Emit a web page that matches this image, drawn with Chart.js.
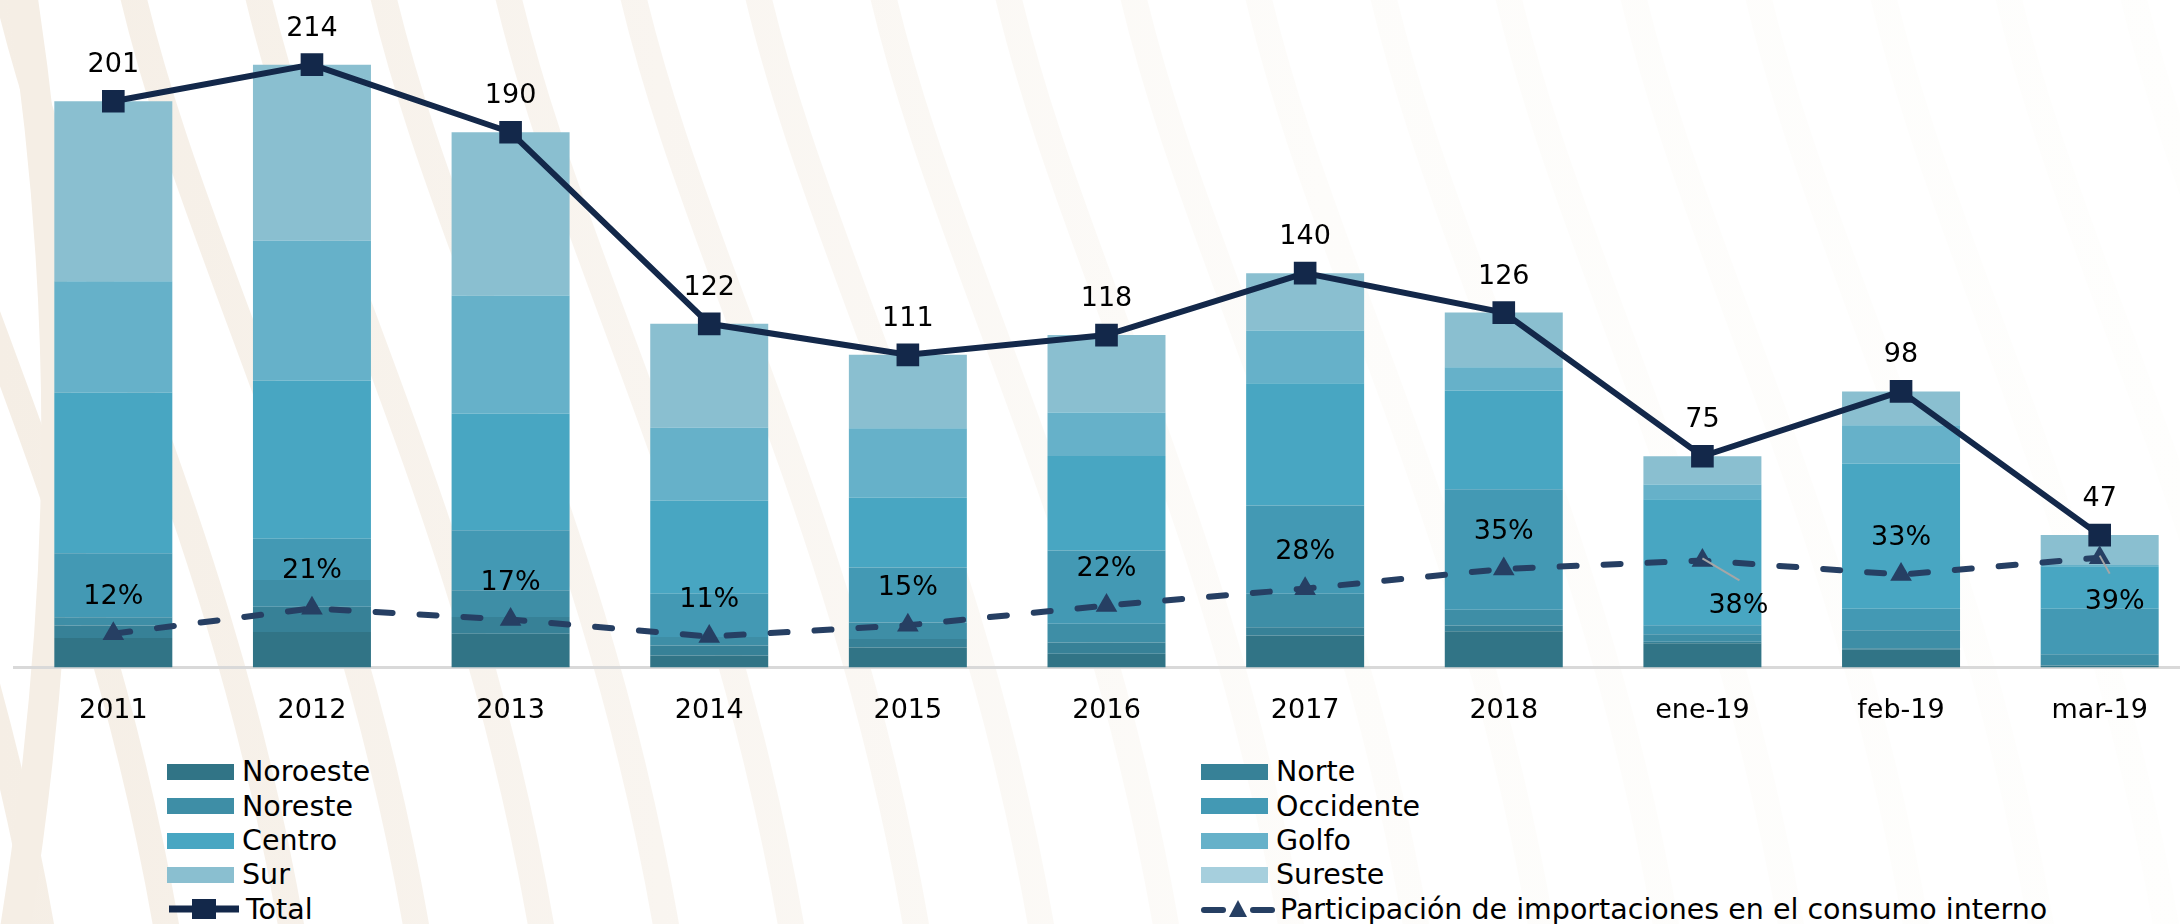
<!DOCTYPE html>
<html>
<head>
<meta charset="utf-8">
<script src="https://cdn.jsdelivr.net/npm/chart.js@4.4.1/dist/chart.umd.min.js"></script>
<style>
  html, body { margin: 0; padding: 0; background: #fff; overflow: hidden; }
  body { width: 2220px; height: 924px; position: relative; font-family: "DejaVu Sans", sans-serif; }
  #bg { position: absolute; left: 0; top: 0; }
  #chart { position: absolute; left: -2px; top: 0; width: 2217px; height: 740px; }
  .leg { position: absolute; height: 34px; display: flex; align-items: center; font-size: 28.5px; color: #000; white-space: nowrap; }
  .leg .box { width: 67px; height: 16px; margin-right: 8px; }
  .leg svg { margin-right: 5px; }
</style>
</head>
<body>
<svg id="bg" width="2200" height="924"></svg>
<canvas id="chart" width="2217" height="740"></canvas>
<div id="legend"></div>
<script>
// periods on the x axis
const periods = ["2011", "2012", "2013", "2014", "2015", "2016", "2017", "2018", "ene-19", "feb-19", "mar-19"];

// imports by region (stacked bars)
const noroeste  = [10.5, 12.6, 12.0,  4.3,  7.1,  4.9, 11.4, 12.9,  8.6,  6.3,  0.6];
const norte     = [ 4.4,  9.0,  5.9,  3.5,  3.0,  4.0,  2.9,  2.0,  0.5,  0.5,  0.2];
const noreste   = [ 2.9,  9.5,  9.5,  3.0,  5.9,  6.6, 11.9,  5.6,  2.7,  6.4,  3.9];
const occidente = [22.8, 14.6, 21.3, 15.4, 19.5, 26.0, 31.3, 42.8,  3.2,  7.7, 16.2];
const centro    = [56.9, 56.2, 41.5, 33.1, 24.8, 33.6, 43.4, 35.0, 44.7, 51.5, 15.0];
const golfo     = [39.6, 49.6, 41.9, 25.8, 24.6, 15.4, 18.7,  8.3,  5.3, 13.6,  0.5];
const sur       = [63.9, 62.5, 57.9, 36.9, 26.1, 27.5, 20.4, 19.4, 10.0, 12.0, 10.6];
const sureste   = [ 0,    0,    0,    0,    0,    0,    0,    0,    0,    0,    0  ];

// total and share of imports in domestic consumption (%)
const total = [201, 214, 190, 122, 111, 118, 140, 126, 75, 98, 47];
const participacion = [12, 21, 17, 11, 15, 22, 28, 35, 38, 33, 39];

const regionNames = ["Noroeste", "Norte", "Noreste", "Occidente", "Centro", "Golfo", "Sur", "Sureste"];
const regionValues = [noroeste, norte, noreste, occidente, centro, golfo, sur, sureste];
const regionColors = ["#317486", "#378197", "#3e8ea6", "#4399b4", "#48a6c2", "#66b1c9", "#8abfd0", "#a6cfdd"];

const totalColor = "#13284a";
const pctColor = "#263f63";
const FONT = "DejaVu Sans";

// faint watermark stripes behind the chart (decoration only)
(function drawWatermark() {
  const svg = document.getElementById("bg");
  let html = '<defs><linearGradient id="wm" gradientUnits="userSpaceOnUse" x1="0" y1="0" x2="2200" y2="0">' +
    '<stop offset="0" stop-color="#f5eee5"/><stop offset="0.3" stop-color="#f9f5f0"/><stop offset="0.6" stop-color="#fdfcfa"/><stop offset="1" stop-color="#fefefd"/></linearGradient></defs>';
  for (let k = -3; k < 20; k++) {
    const x = k * 125;
    html += '<path d="M' + x + ' -40 C ' + (x + 60) + ' 250, ' + (x + 230) + ' 520, ' + (x + 300) + ' 980" ' +
      'fill="none" stroke="url(#wm)" stroke-width="26" stroke-linecap="round"/>';
  }
  html += '<path d="M20 -20 C 70 300, 70 600, 10 960" fill="none" stroke="#f5eee5" stroke-width="30"/>';
  svg.innerHTML = html;
})();

// draws the numbers over the markers
const valueLabels = {
  id: "valueLabels",
  afterDatasetsDraw(chart) {
    const ctx = chart.ctx;
    const n = regionNames.length;
    ctx.save();
    ctx.font = "27px '" + FONT + "'";
    ctx.fillStyle = "#000";
    ctx.textAlign = "center";
    ctx.textBaseline = "middle";

    chart.getDatasetMeta(n).data.forEach((pt, i) => {
      ctx.fillText(String(total[i]), pt.x, pt.y - 36);
    });

    // two labels sit below the marker with a small leader line
    const below = { 8: [36, 46, 37, 20], 10: [15, 44, 10, 16] };
    chart.getDatasetMeta(n + 1).data.forEach((pt, i) => {
      const txt = participacion[i] + "%";
      const b = below[i];
      if (b) {
        ctx.strokeStyle = "#a6a6a6";
        ctx.lineWidth = 2;
        ctx.beginPath();
        ctx.moveTo(pt.x, pt.y - 2);
        ctx.lineTo(pt.x + b[2], pt.y + b[3]);
        ctx.stroke();
        ctx.fillText(txt, pt.x + b[0], pt.y + b[1]);
      } else {
        ctx.fillText(txt, pt.x, pt.y - 37);
      }
    });
    ctx.restore();
  }
};

const datasets = regionNames.map((name, i) => ({
  type: "bar",
  label: name,
  data: regionValues[i],
  backgroundColor: regionColors[i],
  borderWidth: 0,
  stack: "regiones",
  yAxisID: "y",
  order: 2,
  barPercentage: 0.594,
  categoryPercentage: 1
}));

datasets.push({
  type: "line",
  label: "Total",
  data: total,
  yAxisID: "yT",
  order: 1,
  borderColor: totalColor,
  borderWidth: 6,
  tension: 0,
  pointStyle: "rect",
  pointRadius: 16,
  pointBorderWidth: 0,
  pointBackgroundColor: totalColor
});

datasets.push({
  type: "line",
  label: "Participación de importaciones en el consumo interno",
  data: participacion,
  yAxisID: "yP",
  order: 0,
  borderColor: pctColor,
  borderWidth: 6,
  borderDash: [17, 27],
  borderCapStyle: "round",
  tension: 0,
  pointStyle: "triangle",
  pointRadius: 12.5,
  pointBorderWidth: 0,
  pointBackgroundColor: pctColor
});

// the line points force a 16px minimum padding on each side; the canvas is shifted to compensate
new Chart(document.getElementById("chart"), {
  data: { labels: periods, datasets: datasets },
  options: {
    responsive: false,
    animation: false,
    devicePixelRatio: 1,
    layout: { padding: { left: 0, right: 0, top: 19.6, bottom: 0 } },
    plugins: { legend: { display: false }, tooltip: { enabled: false } },
    scales: {
      x: {
        offset: true,
        grid: { display: false, drawTicks: false },
        border: { display: true, color: "#d9d9d9", width: 3 },
        ticks: { color: "#000", font: { family: FONT, size: 27 }, padding: 27, maxRotation: 0, autoSkip: false },
        afterFit(s) { s.height = 72.5; s.paddingLeft = 0; s.paddingRight = 0; }
      },
      y:  { display: false, stacked: true, min: 0, max: 230 },
      yT: { display: false, min: 0, max: 230 },
      yP: { display: false, min: 0, max: 230 }
    }
  },
  plugins: [valueLabels]
});

// legend in two columns under the chart
const legend = document.getElementById("legend");
const colX = [167, 1201];
const rowY = 771.7, rowStep = 34.4;
function addItem(col, row, markerHtml, text) {
  const d = document.createElement("div");
  d.className = "leg";
  d.style.left = colX[col] + "px";
  d.style.top = (rowY + row * rowStep - 17) + "px";
  d.innerHTML = markerHtml;
  const s = document.createElement("span");
  s.textContent = text;
  d.appendChild(s);
  legend.appendChild(d);
}
regionNames.forEach((name, i) => {
  addItem(i % 2, Math.floor(i / 2), '<div class="box" style="background:' + regionColors[i] + '"></div>', name);
});
addItem(0, 4,
  '<svg width="74" height="24"><line x1="2" y1="12" x2="72" y2="12" stroke="' + totalColor + '" stroke-width="7"/>' +
  '<rect x="25" y="2" width="24" height="20" fill="' + totalColor + '"/></svg>', datasets[8].label);
addItem(1, 4,
  '<svg width="74" height="24"><line x1="3" y1="13" x2="22" y2="13" stroke="' + pctColor + '" stroke-width="6" stroke-linecap="round"/>' +
  '<polygon points="37,3 46,20 28,20" fill="' + pctColor + '"/>' +
  '<line x1="52" y1="13" x2="71" y2="13" stroke="' + pctColor + '" stroke-width="6" stroke-linecap="round"/></svg>', datasets[9].label);
</script>
</body>
</html>
